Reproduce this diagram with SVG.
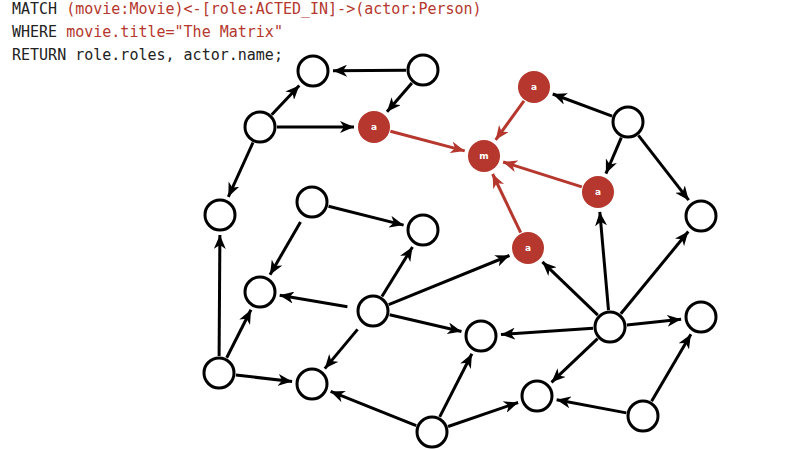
<svg xmlns="http://www.w3.org/2000/svg" width="800" height="450" viewBox="0 0 800 450">
<style>
.code{font-family:"DejaVu Sans Mono","Liberation Mono",monospace;font-size:15px;fill:#222}
.hl{fill:#b5372d}
.n{fill:#fff;stroke:#000;stroke-width:3}
.r{fill:#b5372d}
.lbl{font-family:"DejaVu Sans","Liberation Sans",sans-serif;font-size:9px;font-weight:bold;fill:#fff;text-anchor:middle}
.e{stroke:#000;stroke-width:3;fill:none;marker-end:url(#ah)}
.er{stroke:#b5372d;stroke-width:3;fill:none;marker-end:url(#ahr)}
</style>
<defs>
<marker id="ah" markerUnits="userSpaceOnUse" viewBox="0 0 14 12" refX="14" refY="6" markerWidth="14" markerHeight="12" orient="auto"><path d="M0,0 L14,6 L0,12 L4,6 z" fill="#000"/></marker>
<marker id="ahr" markerUnits="userSpaceOnUse" viewBox="0 0 14 12" refX="14" refY="6" markerWidth="14" markerHeight="12" orient="auto"><path d="M0,0 L14,6 L0,12 L4,6 z" fill="#b5372d"/></marker>
</defs>
<g id="query">
<text class="code" x="12" y="14">MATCH <tspan class="hl">(movie:Movie)&lt;-[role:ACTED_IN]-&gt;(actor:Person)</tspan></text>
<text class="code" x="12" y="37">WHERE <tspan class="hl">movie.title="The Matrix"</tspan></text>
<text class="code" x="12" y="60">RETURN role.roles, actor.name;</text>
</g>
<g id="connectors">
<line class="e" x1="406" y1="70.2" x2="333" y2="70.8"/>
<line class="e" x1="411.9" y1="82.9" x2="387" y2="111.8"/>
<line class="e" x1="271.7" y1="114.7" x2="299.3" y2="85.5"/>
<line class="e" x1="277" y1="127" x2="354" y2="127"/>
<line class="e" x1="253" y1="142.5" x2="228.3" y2="196.8"/>
<line class="er" x1="390.4" y1="131.3" x2="464.7" y2="150.9"/>
<line class="er" x1="524" y1="100.8" x2="495.7" y2="139.8"/>
<line class="er" x1="581.8" y1="186.9" x2="503.1" y2="162"/>
<line class="er" x1="520.7" y1="232.7" x2="492.6" y2="174"/>
<line class="e" x1="612.1" y1="116.1" x2="552.7" y2="94"/>
<line class="e" x1="621.3" y1="137.6" x2="605.9" y2="173.6"/>
<line class="e" x1="638.4" y1="135.4" x2="688.7" y2="200.2"/>
<line class="e" x1="328.5" y1="206.2" x2="403.6" y2="225.1"/>
<line class="e" x1="300.5" y1="221.9" x2="270" y2="274.7"/>
<line class="e" x1="347.4" y1="306.7" x2="279.7" y2="295.3"/>
<line class="e" x1="381.9" y1="296.5" x2="412.5" y2="247"/>
<line class="e" x1="388.7" y1="304.6" x2="509.5" y2="255.5"/>
<line class="e" x1="389.6" y1="314.8" x2="461.5" y2="331.5"/>
<line class="e" x1="357.6" y1="329.4" x2="324.8" y2="368.6"/>
<line class="e" x1="219.1" y1="356" x2="219.9" y2="235"/>
<line class="e" x1="226.7" y1="357.8" x2="251" y2="309.8"/>
<line class="e" x1="235.9" y1="375" x2="292.1" y2="381.6"/>
<line class="e" x1="416.2" y1="425.7" x2="330.6" y2="391.4"/>
<line class="e" x1="439.7" y1="416.9" x2="471.9" y2="353.8"/>
<line class="e" x1="448.1" y1="426.5" x2="518.1" y2="402.5"/>
<line class="e" x1="593" y1="328.2" x2="501" y2="334.6"/>
<line class="e" x1="597.8" y1="315.2" x2="542.4" y2="261.9"/>
<line class="e" x1="608.5" y1="310.1" x2="599.8" y2="211.9"/>
<line class="e" x1="620.8" y1="313.8" x2="688.3" y2="231.5"/>
<line class="e" x1="626.9" y1="325.1" x2="681.1" y2="319.2"/>
<line class="e" x1="597.6" y1="338.7" x2="551.5" y2="382.3"/>
<line class="e" x1="626.3" y1="412.9" x2="556.6" y2="399.7"/>
<line class="e" x1="651.6" y1="401.3" x2="690.9" y2="334.3"/>
</g>
<g id="n1"><circle class="n" cx="313" cy="71" r="15"/></g>
<g id="n2"><circle class="n" cx="423" cy="70" r="15"/></g>
<g id="n3"><circle class="n" cx="260" cy="127" r="15"/></g>
<g id="a1"><circle class="r" cx="374" cy="127" r="16"/><text class="lbl" x="374" y="130">a</text></g>
<g id="m"><circle class="r" cx="484" cy="156" r="16"/><text class="lbl" x="484" y="159">m</text></g>
<g id="a2"><circle class="r" cx="534" cy="87" r="16"/><text class="lbl" x="534" y="90">a</text></g>
<g id="n4"><circle class="n" cx="628" cy="122" r="15"/></g>
<g id="a3"><circle class="r" cx="598" cy="192" r="16"/><text class="lbl" x="598" y="195">a</text></g>
<g id="n5"><circle class="n" cx="220" cy="215" r="15"/></g>
<g id="n6"><circle class="n" cx="701" cy="216" r="15"/></g>
<g id="n7"><circle class="n" cx="312" cy="202" r="15"/></g>
<g id="n8"><circle class="n" cx="423" cy="230" r="15"/></g>
<g id="a4"><circle class="r" cx="528" cy="248" r="16"/><text class="lbl" x="528" y="251">a</text></g>
<g id="n9"><circle class="n" cx="260" cy="292" r="15"/></g>
<g id="n10"><circle class="n" cx="373" cy="311" r="15"/></g>
<g id="n11"><circle class="n" cx="481" cy="336" r="15"/></g>
<g id="n12"><circle class="n" cx="610" cy="327" r="15"/></g>
<g id="n13"><circle class="n" cx="701" cy="317" r="15"/></g>
<g id="n14"><circle class="n" cx="219" cy="373" r="15"/></g>
<g id="n15"><circle class="n" cx="312" cy="384" r="15"/></g>
<g id="n16"><circle class="n" cx="537" cy="396" r="15"/></g>
<g id="n17"><circle class="n" cx="643" cy="416" r="15"/></g>
<g id="n18"><circle class="n" cx="432" cy="432" r="15"/></g>
</svg>
